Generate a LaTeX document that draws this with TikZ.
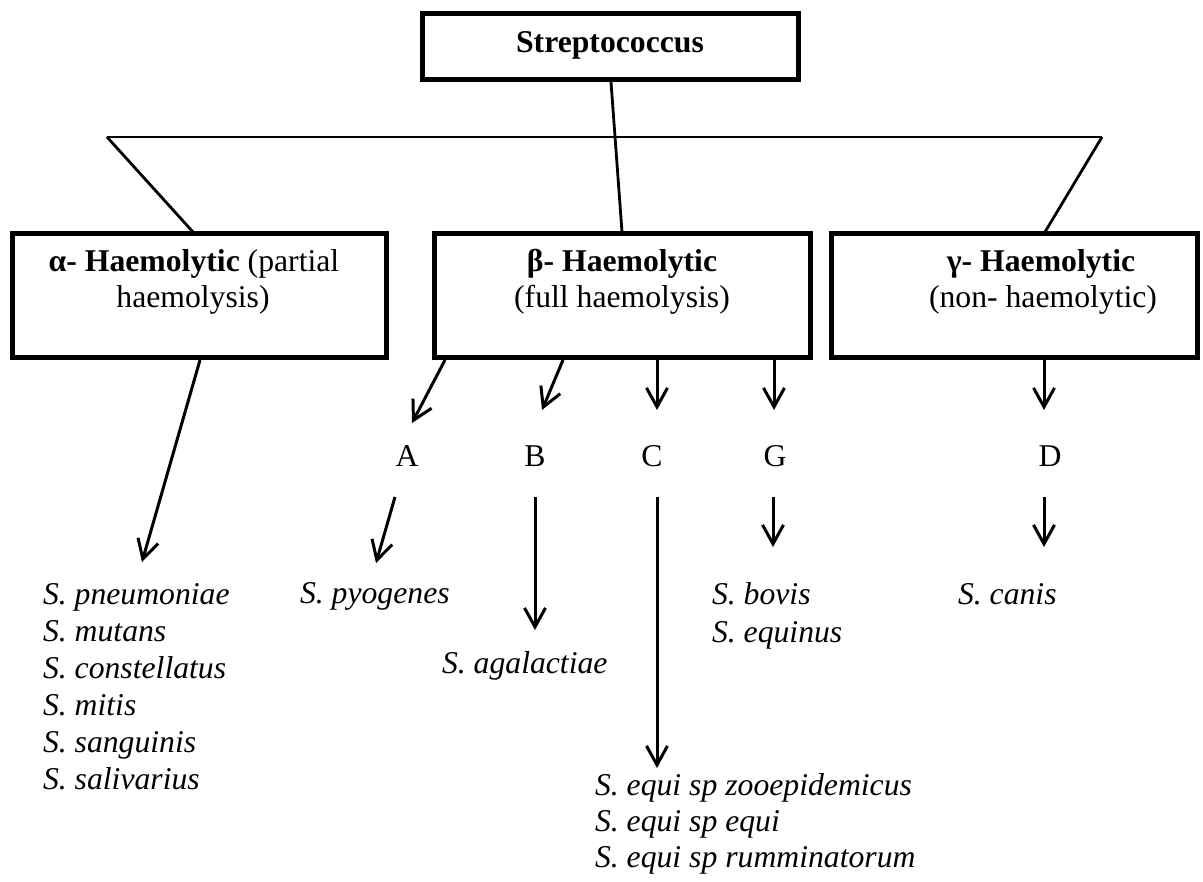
\documentclass[tikz,border=0pt]{standalone}
\usepackage{fontspec}
\setmainfont{Liberation Serif}
\usetikzlibrary{arrows.meta}
\begin{document}
\begin{tikzpicture}[x=1pt,y=-1pt,
  every node/.style={inner sep=0pt,outer sep=0pt,font=\fontsize{31.7pt}{37pt}\selectfont},
  box/.style={draw,line width=5pt,rectangle},
  lbl/.style={anchor=base},
  item/.style={anchor=base west,font=\fontsize{31.7pt}{37pt}\selectfont\itshape},
  link/.style={line width=2.8pt},
  arr/.style={line width=3pt,-{Straight Barb[length=19pt,width=21pt]}}]
\fill[white] (0,0) rectangle (1203,882);
\useasboundingbox (0,0) rectangle (1203,882);
% boxes
\node[box,minimum width=376pt,minimum height=66pt] (top) at (610,47) {};
\node[box,minimum width=374pt,minimum height=124pt] (alpha) at (199,296) {};
\node[box,minimum width=376pt,minimum height=124pt] (beta) at (622,296) {};
\node[box,minimum width=366pt,minimum height=124pt] (gamma) at (1014,296) {};
% box texts
\node[lbl] (ttop) at (610,53) {\textbf{Streptococcus}};
\node[lbl] (ta1) at (194,272) {\textbf{α- Haemolytic} (partial};
\node[lbl] (ta2) at (193,308) {haemolysis)};
\node[lbl] (tb1) at (622,272) {\textbf{β- Haemolytic}};
\node[lbl] (tb2) at (622,308) {(full haemolysis)};
\node[lbl] (tg1) at (1041,272) {\textbf{γ- Haemolytic}};
\node[lbl] (tg2) at (1043,308) {(non- haemolytic)};
% group letters
\node[lbl] (A) at (407,467) {A};
\node[lbl] (B) at (535,467) {B};
\node[lbl] (C) at (652,467) {C};
\node[lbl] (G) at (775,467) {G};
\node[lbl] (D) at (1050,467) {D};
% species lists
\node[item] (pn) at (43,604) {S. pneumoniae};
\node[item] (mu) at (43,641) {S. mutans};
\node[item] (co) at (43,678) {S. constellatus};
\node[item] (mi) at (43,715) {S. mitis};
\node[item] (sa) at (43,752) {S. sanguinis};
\node[item] (sl) at (43,789) {S. salivarius};
\node[item] (py) at (300,603) {S. pyogenes};
\node[item] (ag) at (442,673) {S. agalactiae};
\node[item] (bo) at (712,604) {S. bovis};
\node[item] (eq) at (712,642) {S. equinus};
\node[item] (ca) at (958,604) {S. canis};
\node[item] (z1) at (595,795) {S. equi sp zooepidemicus};
\node[item] (z2) at (595,831) {S. equi sp equi};
\node[item] (z3) at (595,867) {S. equi sp rumminatorum};
% connector points
\coordinate (hl) at (107,137);
\coordinate (hr) at (1102,137);
\coordinate (topout) at (611,82);
\coordinate (betain) at (622,232);
\coordinate (alphain) at (193,232);
\coordinate (gammain) at (1045,232);
\coordinate (aout) at (200,360);
\coordinate (pntip) at (142,562);
\coordinate (bA) at (445,360);
\coordinate (bAt) at (412,423);
\coordinate (bB) at (563,360);
\coordinate (bBt) at (542,410);
\coordinate (bC) at (657,360);
\coordinate (bCt) at (657,410);
\coordinate (bG) at (774,360);
\coordinate (bGt) at (774,410);
\coordinate (gD) at (1044,360);
\coordinate (gDt) at (1044,410);
\coordinate (Aout) at (395,497);
\coordinate (Atip) at (376,563);
\coordinate (Bout) at (535,497);
\coordinate (Btip) at (535,630);
\coordinate (Cout) at (657,497);
\coordinate (Ctip) at (657,768);
\coordinate (Gout) at (773,497);
\coordinate (Gtip) at (773,547);
\coordinate (Dout) at (1044,497);
\coordinate (Dtip) at (1044,547);
% tree lines
\draw[link] (topout) -- (betain);
\draw[line width=2.4pt] (hl) -- (hr);
\draw[link] (hl) -- (alphain);
\draw[link] (hr) -- (gammain);
% arrows
\draw[arr] (aout) -- (pntip);
\draw[arr] (bA) -- (bAt);
\draw[arr] (bB) -- (bBt);
\draw[arr] (bC) -- (bCt);
\draw[arr] (bG) -- (bGt);
\draw[arr] (gD) -- (gDt);
\draw[arr] (Aout) -- (Atip);
\draw[arr] (Bout) -- (Btip);
\draw[arr] (Cout) -- (Ctip);
\draw[arr] (Gout) -- (Gtip);
\draw[arr] (Dout) -- (Dtip);
\end{tikzpicture}
\end{document}
